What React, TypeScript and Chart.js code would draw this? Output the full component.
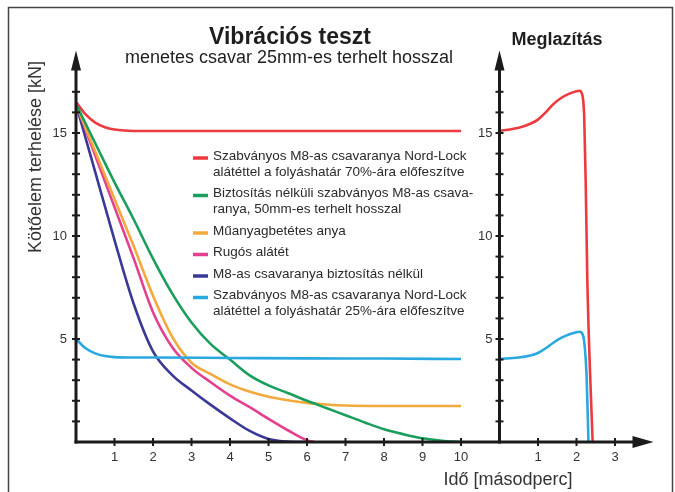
import React, { useEffect, useRef } from "react";
import { Chart, registerables } from "chart.js";
Chart.register(...registerables);

const FONT = '"Liberation Sans", Arial, Helvetica, sans-serif';

// ---- Texts ----
const mainTitle = "Vibrációs teszt";
const mainSubtitle = "menetes csavar 25mm-es terhelt hosszal";
const releaseTitle = "Meglazítás";
const yAxisTitle = "Kötőelem terhelése [kN]";
const xAxisTitle = "Idő [másodperc]";

const seriesLabels: string[][] = [
  ["Szabványos M8-as csavaranya Nord-Lock", "alátéttel a folyáshatár 70%-ára előfeszítve"],
  ["Biztosítás nélküli szabványos M8-as csava-", "ranya, 50mm-es terhelt hosszal"],
  ["Műanyagbetétes anya"],
  ["Rugós alátét"],
  ["M8-as csavaranya biztosítás nélkül"],
  ["Szabványos M8-as csavaranya Nord-Lock", "alátéttel a folyáshatár 25%-ára előfeszítve"],
];
const seriesColors = ["#ec3a3f", "#1a9e5c", "#f3a93c", "#e2418f", "#3b3996", "#2aa8e0"];

// ---- Ticks ----
const xTicksMain = [1, 2, 3, 4, 5, 6, 7, 8, 9, 10];
const xTicksRelease = [1, 2, 3];
const yTickLabels = [5, 10, 15];
const yTickMarks = [1, 2, 3, 4, 5, 6, 7, 8, 9, 10, 11, 12, 13, 14, 15, 16, 17];
const releaseAxisAt = 11; // main-time value where the release panel starts
const xMax = 15;
const yMax = 19;

// ---- Vibration test (left) ----
const redT = [0, 0.25, 0.5, 0.75, 1, 1.25, 1.5, 2, 4, 6, 8, 10];
const redV = [16.5, 15.9, 15.5, 15.28, 15.17, 15.12, 15.1, 15.1, 15.1, 15.1, 15.1, 15.1];

const greenT = [0, 0.5, 1, 1.5, 2, 2.5, 3, 3.5, 4, 4.5, 5, 5.5, 6, 6.5, 7, 7.5, 8, 8.5, 9, 9.5, 10];
const greenV = [16.4, 14.5, 12.6, 10.8, 8.9, 7.2, 5.8, 4.75, 4.0, 3.25, 2.75, 2.38, 2.0, 1.65, 1.3, 0.95, 0.62, 0.38, 0.18, 0.06, 0];

const orangeT = [0, 0.5, 1, 1.5, 2, 2.5, 3, 3.5, 4, 4.5, 5, 5.5, 6, 6.5, 7, 8, 9, 10];
const orangeV = [16.4, 14.1, 11.8, 9.5, 7.1, 5.1, 3.85, 3.3, 2.8, 2.45, 2.2, 2.03, 1.9, 1.82, 1.77, 1.75, 1.75, 1.75];

const pinkT = [0, 0.5, 1, 1.5, 2, 2.5, 3, 3.5, 4, 4.5, 5, 5.5, 6, 6.2];
const pinkV = [16.4, 13.9, 11.4, 8.9, 6.3, 4.6, 3.6, 2.9, 2.25, 1.7, 1.12, 0.57, 0.08, 0];

const navyT = [0, 0.5, 1, 1.5, 2, 2.5, 3, 3.5, 4, 4.5, 5, 5.5, 6];
const navyV = [16.4, 13.1, 9.8, 6.7, 4.4, 3.25, 2.5, 1.8, 1.15, 0.55, 0.15, 0.02, 0];

const blueT = [0, 0.25, 0.5, 0.75, 1, 1.5, 2, 4, 6, 8, 10];
const blueV = [5.0, 4.55, 4.3, 4.17, 4.12, 4.1, 4.1, 4.08, 4.06, 4.05, 4.03];

// ---- Release (right) ----
const relRedT = [0, 0.5, 0.8, 1.0, 1.2, 1.4, 1.6, 1.8, 2.0, 2.08, 2.15, 2.2, 2.24, 2.28, 2.34, 2.42];
const relRedV = [15.1, 15.25, 15.45, 15.65, 16.0, 16.4, 16.7, 16.9, 17.03, 17.05, 16.85, 15.8, 12.5, 8, 4, 0];

const relBlueT = [0, 0.5, 0.8, 1.0, 1.2, 1.4, 1.6, 1.8, 2.0, 2.08, 2.17, 2.22, 2.26, 2.29, 2.31];
const relBlueV = [4.03, 4.1, 4.2, 4.32, 4.55, 4.82, 5.05, 5.22, 5.33, 5.35, 5.18, 4.5, 3.3, 1.5, 0];

const pts = (t: number[], v: number[]) => t.map((x, i) => ({ x, y: v[i] }));

const decorPlugin = {
  id: "decor",
  afterDatasetsDraw(chart: any) {
    const { ctx, scales } = chart;
    const xs = scales.x;
    const ys = scales.y;
    const px = (v: number) => xs.getPixelForValue(v);
    const py = (v: number) => ys.getPixelForValue(v);
    const x0 = px(0);
    const xR = px(releaseAxisAt);
    const y0 = py(0);
    const yTop = py(yMax);
    const xEnd = px(xMax);
    ctx.save();

    // frame
    ctx.strokeStyle = "#454545";
    ctx.lineWidth = 1.5;
    ctx.strokeRect(8.5, 7.5, 664, 540);

    // axes
    ctx.strokeStyle = "#1b1b1b";
    ctx.fillStyle = "#1b1b1b";
    ctx.lineWidth = 3;
    const vAxis = (x: number) => {
      ctx.beginPath();
      ctx.moveTo(x, y0 + 1.5);
      ctx.lineTo(x, yTop + 16);
      ctx.stroke();
      ctx.beginPath();
      ctx.moveTo(x, yTop);
      ctx.lineTo(x - 5, yTop + 20);
      ctx.lineTo(x + 5, yTop + 20);
      ctx.closePath();
      ctx.fill();
    };
    vAxis(x0);
    vAxis(xR);
    ctx.beginPath();
    ctx.moveTo(x0 - 1.5, y0);
    ctx.lineTo(xEnd - 16, y0);
    ctx.stroke();
    ctx.beginPath();
    ctx.moveTo(xEnd, y0);
    ctx.lineTo(xEnd - 21, y0 - 6);
    ctx.lineTo(xEnd - 21, y0 + 6);
    ctx.closePath();
    ctx.fill();

    // tick marks
    ctx.lineWidth = 2;
    for (const v of yTickMarks) {
      for (const ax of [x0, xR]) {
        ctx.beginPath();
        ctx.moveTo(ax - 4, py(v));
        ctx.lineTo(ax + 4, py(v));
        ctx.stroke();
      }
    }
    const xTickPos = [...xTicksMain, ...xTicksRelease.map((t) => t + releaseAxisAt)];
    for (const t of xTickPos) {
      ctx.beginPath();
      ctx.moveTo(px(t), y0 - 4);
      ctx.lineTo(px(t), y0 + 4);
      ctx.stroke();
    }

    // right axis labels
    ctx.fillStyle = "#333";
    ctx.font = `13px ${FONT}`;
    ctx.textAlign = "right";
    ctx.textBaseline = "middle";
    for (const v of yTickLabels) ctx.fillText(String(v), xR - 7, py(v));

    // titles
    ctx.fillStyle = "#1e1e1e";
    ctx.textAlign = "center";
    ctx.font = `bold 23px ${FONT}`;
    ctx.fillText(mainTitle, 290, 38);
    ctx.font = `18px ${FONT}`;
    ctx.fillText(mainSubtitle, 289, 58);
    ctx.font = `bold 18px ${FONT}`;
    ctx.fillText(releaseTitle, 557, 40);

    // axis titles
    ctx.fillStyle = "#333";
    ctx.font = `18px ${FONT}`;
    ctx.fillText(xAxisTitle, 508, 480);
    ctx.save();
    ctx.translate(36, 157);
    ctx.rotate(-Math.PI / 2);
    ctx.fillText(yAxisTitle, 0, 0);
    ctx.restore();

    // legend
    ctx.font = `13.5px ${FONT}`;
    ctx.textAlign = "left";
    let ly = 156;
    seriesLabels.forEach((lines, i) => {
      ctx.strokeStyle = seriesColors[i];
      ctx.lineWidth = 3.5;
      ctx.beginPath();
      ctx.moveTo(193, ly + 2);
      ctx.lineTo(208, ly + 2);
      ctx.stroke();
      ctx.fillStyle = "#2a2a2a";
      lines.forEach((s, j) => ctx.fillText(s, 213, ly + j * 16));
      ly += lines.length * 16 + 5.5;
    });
    ctx.restore();
  },
};

export default function App() {
  const ref = useRef<HTMLCanvasElement>(null);
  useEffect(() => {
    if (!ref.current) return;
    const lineDs = (label: string, data: any[], color: string, xAxisID = "x") => ({
      label,
      data,
      borderColor: color,
      backgroundColor: color,
      borderWidth: 2.6,
      pointRadius: 0,
      tension: 0.4,
      cubicInterpolationMode: "monotone" as const,
      fill: false,
      xAxisID,
      yAxisID: "y",
    });
    const chart = new Chart(ref.current, {
      type: "line",
      data: {
        datasets: [
          lineDs(seriesLabels[5].join(" "), pts(blueT, blueV), seriesColors[5]),
          lineDs(seriesLabels[1].join(" "), pts(greenT, greenV), seriesColors[1]),
          lineDs(seriesLabels[2].join(" "), pts(orangeT, orangeV), seriesColors[2]),
          lineDs(seriesLabels[3].join(" "), pts(pinkT, pinkV), seriesColors[3]),
          lineDs(seriesLabels[4].join(" "), pts(navyT, navyV), seriesColors[4]),
          lineDs(seriesLabels[0].join(" "), pts(redT, redV), seriesColors[0]),
          lineDs("Meglazítás 25%", pts(relBlueT, relBlueV), seriesColors[5], "x2"),
          lineDs("Meglazítás 70%", pts(relRedT, relRedV), seriesColors[0], "x2"),
        ],
      },
      options: {
        responsive: false,
        animation: false,
        devicePixelRatio: 1,
        layout: { padding: { top: 50.6, right: 21.5, left: 0, bottom: 0 } },
        plugins: { legend: { display: false }, tooltip: { enabled: false }, title: { display: false } },
        scales: {
          x: {
            type: "linear",
            min: 0,
            max: xMax,
            grid: { display: false, drawTicks: false },
            border: { display: false },
            afterBuildTicks: (s: any) => {
              s.ticks = [...xTicksMain, ...xTicksRelease.map((t) => t + releaseAxisAt)].map((value) => ({ value }));
            },
            afterFit: (s: any) => {
              s.height = 50;
            },
            ticks: {
              padding: 8,
              color: "#333",
              font: { family: FONT, size: 13 },
              maxRotation: 0,
              autoSkip: false,
              callback: (v: any) => String(v > releaseAxisAt ? v - releaseAxisAt : v),
            },
          },
          x2: {
            type: "linear",
            display: false,
            min: -releaseAxisAt,
            max: xMax - releaseAxisAt,
          },
          y: {
            type: "linear",
            min: 0,
            max: yMax,
            grid: { display: false, drawTicks: false },
            border: { display: false },
            afterBuildTicks: (s: any) => {
              s.ticks = yTickLabels.map((value) => ({ value }));
            },
            afterFit: (s: any) => {
              s.width = 76;
            },
            ticks: {
              padding: 9,
              color: "#333",
              font: { family: FONT, size: 13 },
              callback: (v: any) => String(v),
            },
          },
        },
      },
      plugins: [decorPlugin],
    });
    return () => chart.destroy();
  }, []);
  return (
    <div style={{ position: "fixed", left: 0, top: 0, width: 675, height: 492, background: "#fff" }}>
      <canvas ref={ref} width={675} height={492} style={{ display: "block" }} />
    </div>
  );
}
